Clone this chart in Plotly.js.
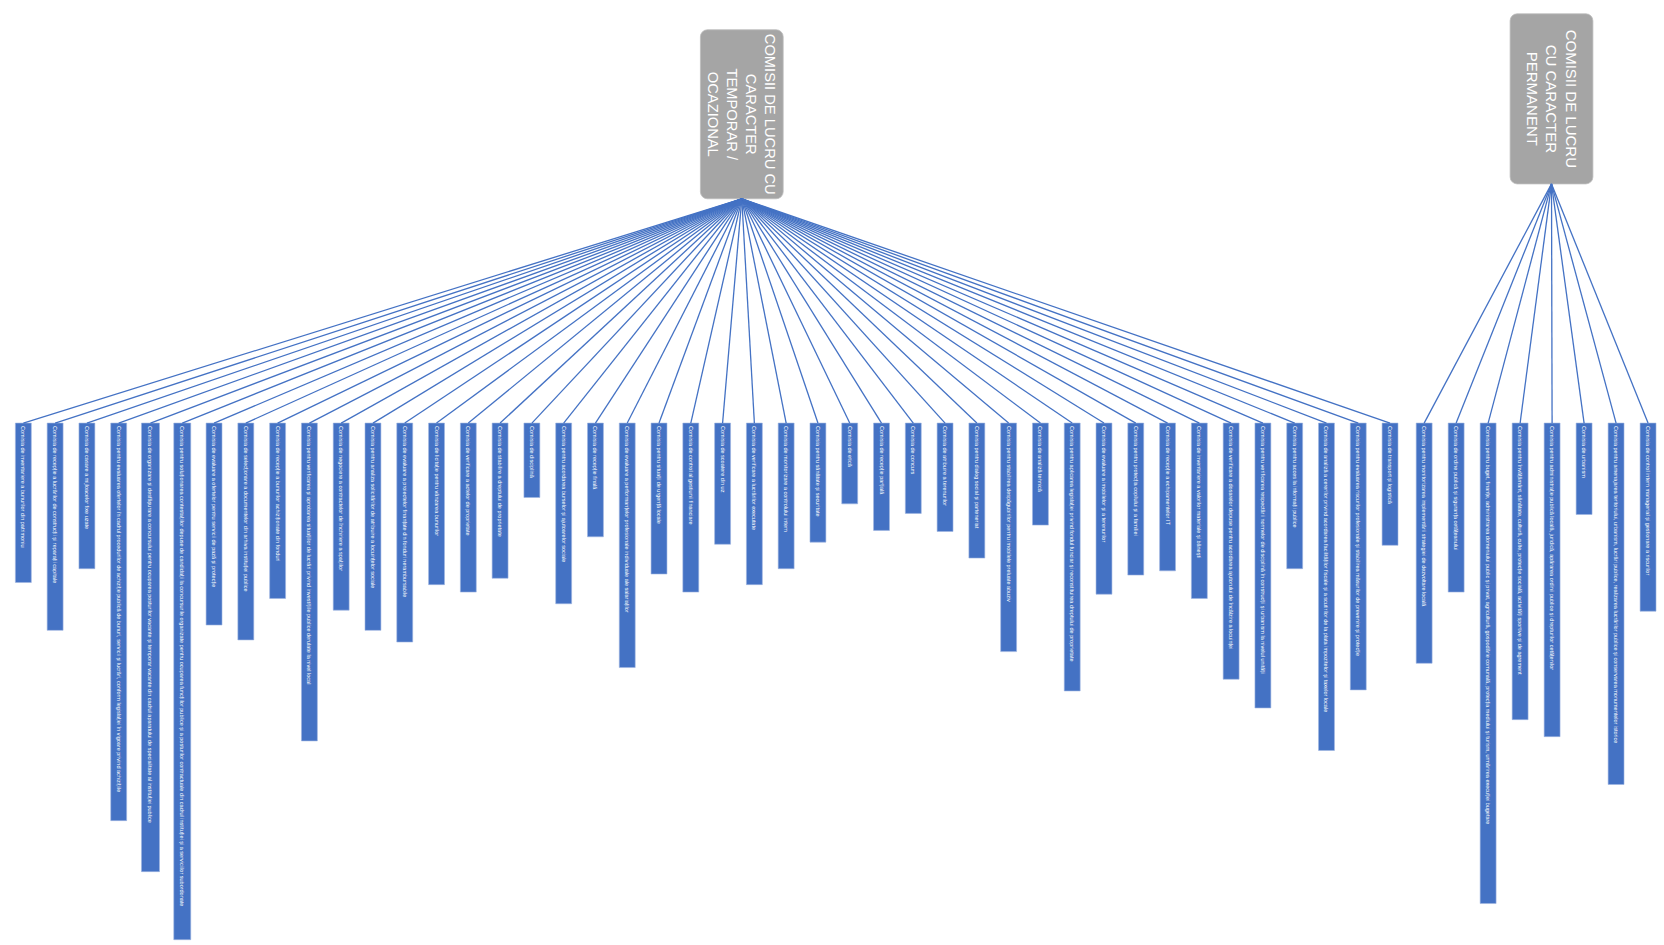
<!DOCTYPE html>
<html><head><meta charset="utf-8">
<script src="https://cdn.plot.ly/plotly-3.0.1.min.js"></script>
<style>html,body{margin:0;padding:0;background:#fff}#c{width:1664px;height:945px}</style>
</head><body><div id="c"></div>
<script>
// Root groups
const rootLabels = [
  "COMISII DE LUCRU CU<br>CARACTER<br>TEMPORAR /<br>OCAZIONAL",
  "COMISII DE LUCRU<br>CU CARACTER<br>PERMANENT"
];

// Temporary / occasional commissions
const tempNames = [
  "Comisia de inventariere a bunurilor din patrimoniu",
  "Comisia de recepție a lucrărilor de construcții și reparații capitale",
  "Comisia de casare a mijloacelor fixe uzate",
  "Comisia pentru evaluarea ofertelor în cadrul procedurilor de achiziție publică de bunuri, servicii și lucrări, conform legislației în vigoare privind achizițiile",
  "Comisia de organizare și desfășurare a concursului pentru ocuparea posturilor vacante și temporar vacante din cadrul aparatului de specialitate al instituției publice",
  "Comisia pentru soluționarea contestațiilor depuse de candidații la concursurile organizate pentru ocuparea funcțiilor publice și a posturilor contractuale din cadrul instituției și a serviciilor subordonate",
  "Comisia de evaluare a ofertelor pentru servicii de pază și protecție",
  "Comisia de selecționare a documentelor din arhiva instituției publice",
  "Comisia de recepție a bunurilor achiziționate din fonduri",
  "Comisia pentru verificarea și aprobarea situațiilor de lucrări privind investițiile publice derulate la nivel local",
  "Comisia de negociere a contractelor de închiriere a spațiilor",
  "Comisia pentru analiza solicitărilor de atribuire a locuințelor sociale",
  "Comisia de evaluare a proiectelor finanțate din fonduri nerambursabile",
  "Comisia de licitație pentru vânzarea bunurilor",
  "Comisia de verificare a actelor de proprietate",
  "Comisia de stabilire a dreptului de proprietate",
  "Comisia de disciplină",
  "Comisia pentru acordarea burselor și ajutoarelor sociale",
  "Comisia de recepție finală",
  "Comisia de evaluare a performanțelor profesionale individuale ale salariaților",
  "Comisia pentru situații de urgență locale",
  "Comisia de control al gestiunii financiare",
  "Comisia de scoatere din uz",
  "Comisia de verificare a lucrărilor executate",
  "Comisia de monitorizare a controlului intern",
  "Comisia pentru sănătate și securitate",
  "Comisia de etică",
  "Comisia de recepție parțială",
  "Comisia de concurs",
  "Comisia de atribuire a terenurilor",
  "Comisia pentru dialog social și parteneriat",
  "Comisia pentru stabilirea despăgubirilor pentru imobilele preluate abuziv",
  "Comisia de analiză tehnică",
  "Comisia pentru aplicarea legislației privind fondul funciar și reconstituirea dreptului de proprietate",
  "Comisia de evaluare a imobilelor și a terenurilor",
  "Comisia pentru protecția copilului și a familiei",
  "Comisia de recepție a echipamentelor IT",
  "Comisia de inventariere a valorilor materiale și bănești",
  "Comisia de verificare a dosarelor depuse pentru acordarea ajutorului de încălzire a locuinței",
  "Comisia pentru verificarea respectării normelor de disciplină în construcții și urbanism la nivelul unității",
  "Comisia pentru acces la informații publice",
  "Comisia de analiză a cererilor privind acordarea facilităților fiscale și a scutirilor de la plata impozitelor și taxelor locale",
  "Comisia pentru evaluarea riscurilor profesionale și stabilirea măsurilor de prevenire și protecție",
  "Comisia de transport și logistică"
];
const tempLens = [150,195,137,374,422,486,190,204,165,299,176,195,206,152,159,146,70,170,107,230,142,159,114,152,137,112,76,101,85,102,127,215,96,252,161,143,139,165,241,268,137,308,251,115];

// Permanent commissions
const permNames = [
  "Comisia pentru monitorizarea implementării strategiei de dezvoltare locală",
  "Comisia de ordine publică și siguranța cetățeanului",
  "Comisia pentru buget, finanțe, administrarea domeniului public și privat, agricultură, gospodărie comunală, protecția mediului și turism, urmărirea execuției bugetare",
  "Comisia pentru învățământ, sănătate, cultură, culte, protecție socială, activități sportive și de agrement",
  "Comisia pentru administrație publică locală, juridică, apărarea ordinii publice și drepturilor cetățenilor",
  "Comisia de urbanism",
  "Comisia pentru amenajarea teritoriului, urbanism, lucrări publice, realizarea lucrărilor publice și conservarea monumentelor istorice",
  "Comisia de control intern managerial și gestionare a riscurilor"
];
const permLens = [226,159,452,279,295,86,340,177];

// ---- layout geometry (diagram units; axes map them onto the page) ----
const BLUE = "#4472c4", GREY = "#a5a5a5";
const childTop = 398;
const rootX = [699, 1462], rootTop = [28, 13], rootLen = [159, 160], rootW = 78;
const tempX = tempNames.map((_, i) => 22 + i * 29.95);
const permX = permNames.map((_, i) => 1342 + i * 30.14);
const tempW = tempNames.map((_, i) => i === 4 ? 17 : (i === 5 ? 16 : 15));

function connectors(rx, ry, xs) {
  const X = [], Y = [];
  xs.forEach(x => { X.push(rx, x, null); Y.push(ry, childTop, null); });
  return {type: "scatter", mode: "lines", x: X, y: Y, hoverinfo: "skip",
          line: {color: BLUE, width: 1.3}, showlegend: false};
}

const childBars = (xs, lens, names, widths) => ({
  type: "bar", x: xs, y: lens, base: xs.map(() => childTop), width: widths,
  text: names, textposition: "inside", insidetextanchor: "start", textangle: 90,
  textfont: {size: 5.5, color: "#ffffff", family: "Liberation Sans, Arial, sans-serif"},
  marker: {color: BLUE, line: {color: "#9fb6e0", width: 0.6}},
  hoverinfo: "skip", showlegend: false, cliponaxis: false
});

const data = [
  connectors(rootX[0], rootTop[0] + rootLen[0], tempX),
  connectors(rootX[1], rootTop[1] + rootLen[1], permX),
  childBars(tempX, tempLens, tempNames, tempW),
  childBars(permX, permLens, permNames, permX.map(() => 15)),
  {type: "bar", x: rootX, y: rootLen, base: rootTop, width: [rootW, rootW],
   text: rootLabels, textposition: "inside", insidetextanchor: "middle", textangle: 90,
   constraintext: "none",
   textfont: {size: 15, color: "#ffffff", family: "Liberation Sans, Arial, sans-serif"},
   marker: {color: GREY, cornerradius: 7, line: {color: "#bcbcbc", width: 0.8}},
   hoverinfo: "skip", showlegend: false}
];

const layout = {
  width: 1664, height: 945,
  margin: {l: 0, r: 0, t: 0, b: 0, pad: 0},
  paper_bgcolor: "#ffffff", plot_bgcolor: "#ffffff",
  barmode: "overlay", showlegend: false,
  xaxis: {range: [0, 1568], visible: false, fixedrange: true},
  yaxis: {range: [889, 0], visible: false, fixedrange: true}
};

Plotly.newPlot("c", data, layout, {displayModeBar: false, staticPlot: true});
</script>
</body></html>
